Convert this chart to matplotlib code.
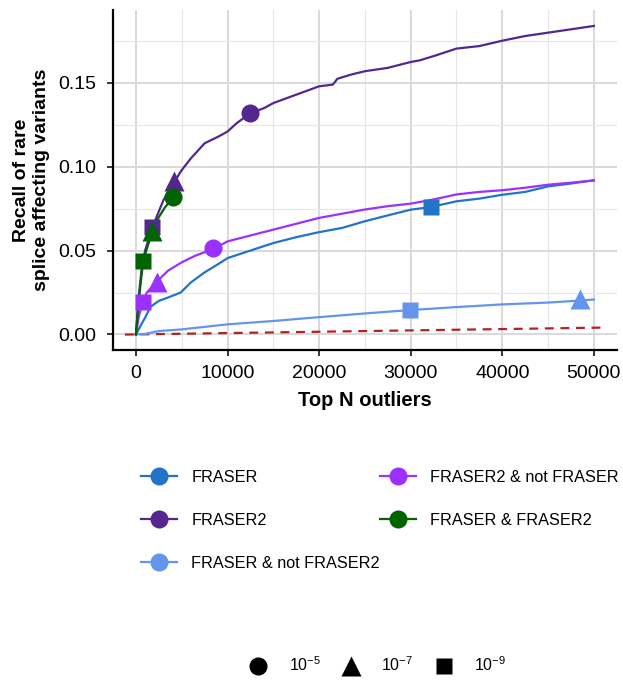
import matplotlib
matplotlib.use("Agg")
import matplotlib.pyplot as plt
from matplotlib.lines import Line2D
from matplotlib.ticker import MultipleLocator

plt.rcParams["font.family"] = ["Liberation Sans", "DejaVu Sans"]
plt.rcParams["mathtext.fontset"] = "custom"
plt.rcParams["mathtext.rm"] = "Liberation Sans"
plt.rcParams["mathtext.it"] = "Liberation Sans:italic"

# curves (top N outliers vs recall)
fraser_x = [0, 500, 1000, 1600, 2500, 3500, 4900, 6000, 7500, 9000, 10000, 12500, 15000,
            17500, 20000, 22500, 25000, 27500, 30000, 32200, 35000, 37500, 40000, 42500,
            45000, 47500, 50000]
fraser_y = [0, 0.005, 0.010, 0.0165, 0.020, 0.022, 0.025, 0.031, 0.037, 0.042, 0.0455,
            0.050, 0.0545, 0.058, 0.061, 0.0635, 0.0675, 0.071, 0.0744, 0.076, 0.0794,
            0.081, 0.0833, 0.085, 0.0883, 0.090, 0.092]

fraser2_x = [0, 300, 600, 1000, 1800, 3000, 4200, 5000, 6000, 7500, 9000, 10000, 11000,
             12500, 14000, 15000, 16500, 17500, 19000, 20000, 21500, 22000, 23500, 25000,
             27500, 30000, 31000, 32500, 35000, 37500, 40000, 42500, 45000, 47500, 50000]
fraser2_y = [0, 0.022, 0.038, 0.050, 0.064, 0.080, 0.091, 0.098, 0.105, 0.114, 0.118,
             0.121, 0.126, 0.132, 0.135, 0.138, 0.141, 0.143, 0.146, 0.148, 0.149, 0.1525,
             0.155, 0.157, 0.159, 0.1625, 0.1635, 0.166, 0.1705, 0.172, 0.1752, 0.178,
             0.180, 0.182, 0.184]

f_not_f2_x = [0, 1000, 2500, 5000, 7500, 10000, 15000, 20000, 25000, 29900, 35000, 40000,
              45000, 48500, 50000]
f_not_f2_y = [0, 0.0003, 0.002, 0.003, 0.0045, 0.006, 0.008, 0.0103, 0.0125, 0.0145,
              0.0163, 0.0179, 0.019, 0.0202, 0.0208]

f2_not_f_x = [0, 300, 700, 1200, 2200, 3500, 5000, 6500, 8500, 10000, 12500, 15000, 17500,
              20000, 22500, 25000, 27500, 30000, 32500, 35000, 37500, 40000, 42500, 45000,
              47500, 50000]
f2_not_f_y = [0, 0.010, 0.019, 0.025, 0.031, 0.038, 0.043, 0.047, 0.051, 0.0555, 0.059,
              0.0625, 0.066, 0.0695, 0.072, 0.0745, 0.0765, 0.078, 0.0805, 0.0835, 0.085,
              0.086, 0.0875, 0.0893, 0.0905, 0.0918]

both_x = [0, 300, 800, 1300, 1800, 2500, 3200, 4100]
both_y = [0, 0.020, 0.044, 0.053, 0.061, 0.070, 0.076, 0.082]

random_x = [-1200, 51400]
random_y = [-0.0001, 0.0041]

# cutoff markers: (x, y) per cutoff, None when off the plot
cutoff_labels = [r"$10^{-5}$", r"$10^{-7}$", r"$10^{-9}$"]
fraser_pts = [None, None, (32200, 0.076)]
fraser2_pts = [(12500, 0.132), (4200, 0.0915), (1800, 0.064)]
f_not_f2_pts = [None, (48480, 0.0212), (29900, 0.0145)]
f2_not_f_pts = [(8450, 0.0513), (2300, 0.0315), (750, 0.0192)]
both_pts = [(4100, 0.082), (1800, 0.0615), (800, 0.044)]

series = [
    ("FRASER", fraser_x, fraser_y, fraser_pts, "#2374C6"),
    ("FRASER2", fraser2_x, fraser2_y, fraser2_pts, "#54278F"),
    ("FRASER & not FRASER2", f_not_f2_x, f_not_f2_y, f_not_f2_pts, "#6495ED"),
    ("FRASER2 & not FRASER", f2_not_f_x, f2_not_f_y, f2_not_f_pts, "#9B30FF"),
    ("FRASER & FRASER2", both_x, both_y, both_pts, "#006400"),
]
shapes = ["o", "^", "s"]
shape_sizes = [13, 14, 12]

fig = plt.figure(figsize=(6.23, 6.82), dpi=100)
ax = fig.add_axes([0.1814, 0.4868, 0.8086, 0.4985])

ax.plot(random_x, random_y, color="#B22222", lw=1.6, ls=(0, (4, 3)), zorder=2)
for name, xs, ys, pts, col in series:
    ax.plot(xs, ys, color=col, lw=1.6, zorder=3)
for name, xs, ys, pts, col in series:
    for p, m, ms in zip(pts, shapes, shape_sizes):
        if p is None:
            continue
        ax.plot([p[0]], [p[1]], marker=m, ms=ms, color=col, mec="none", ls="none", zorder=4)

ax.set_xlim(-2500, 52500)
ax.set_ylim(-0.0093, 0.1935)
ax.xaxis.set_major_locator(MultipleLocator(10000))
ax.xaxis.set_minor_locator(MultipleLocator(5000))
ax.yaxis.set_major_locator(MultipleLocator(0.05))
ax.yaxis.set_minor_locator(MultipleLocator(0.025))
ax.yaxis.set_major_formatter(plt.FuncFormatter(lambda v, p: f"{v:.2f}"))
ax.grid(which="major", color="#D9D9D9", lw=1.4)
ax.grid(which="minor", color="#E6E6E6", lw=0.8)
ax.set_axisbelow(True)
for s in ["top", "right"]:
    ax.spines[s].set_visible(False)
for s in ["left", "bottom"]:
    ax.spines[s].set_linewidth(1.6)
ax.tick_params(which="major", length=4, width=1.1, labelsize=14, colors="black")
ax.tick_params(axis="x", which="major", pad=7)
ax.tick_params(axis="y", which="major", pad=8)
ax.tick_params(which="minor", length=0)
ax.set_xlabel("Top N outliers", fontsize=14.5, fontweight="bold", labelpad=6)
ax.set_ylabel("Recall of rare\nsplice affecting variants", fontsize=14,
              fontweight="bold", labelpad=6)

handles = [Line2D([], [], color=col, lw=1.6, marker="o", ms=13, mec="none")
           for name, xs, ys, pts, col in series]
labels = [s[0] for s in series]
fig.legend(handles, labels, ncol=2, loc="center", bbox_to_anchor=(0.61, 0.237),
           frameon=False, fontsize=11.7, handlelength=2.2, handletextpad=0.9,
           columnspacing=0.0, labelspacing=1.72)

shape_handles = [Line2D([], [], color="black", marker=m, ms=ms, ls="none", mec="none")
                 for m, ms in zip(shapes, shape_sizes)]
fig.legend(shape_handles, cutoff_labels, ncol=3, loc="center",
           bbox_to_anchor=(0.606, 0.025), frameon=False, fontsize=11.5,
           handlelength=1.2, handletextpad=1.3, columnspacing=1.3)

fig.savefig("out.png", dpi=100)
